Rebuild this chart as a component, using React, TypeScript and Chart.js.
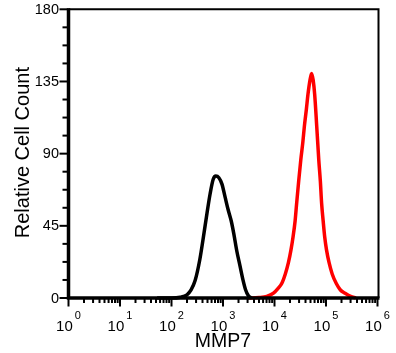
import React, { useEffect, useRef } from "react";
import { Chart, registerables } from "chart.js";

Chart.register(...registerables);

const FONT = '"Liberation Sans", Arial, Helvetica, sans-serif';

// Control histogram (black): log10(MMP7) and relative cell count
const blackLog = [1.72, 2.0, 2.17, 2.3, 2.38, 2.46, 2.55, 2.61, 2.69, 2.75, 2.81, 2.86, 2.92, 2.98, 3.04, 3.1, 3.16, 3.21, 3.27, 3.33, 3.39, 3.44, 3.49, 3.55];
const blackCount = [0, 0, 0.5, 2, 5, 11, 24, 36, 53, 65, 74, 76, 75, 71, 63, 55, 48, 40, 29, 20, 11, 5, 1.5, 0];

// MMP7 stained histogram (red)
const redLog = [3.47, 3.7, 3.85, 3.98, 4.07, 4.14, 4.21, 4.27, 4.32, 4.36, 4.4, 4.43, 4.47, 4.51, 4.55, 4.58, 4.62, 4.65, 4.69, 4.72, 4.75, 4.78, 4.82, 4.86, 4.89, 4.915, 4.945, 4.975, 5.01, 5.06, 5.12, 5.2, 5.28, 5.37, 5.48, 5.58];
const redCount = [0, 0.3, 1, 3, 6, 9, 15, 22, 30, 38, 48, 59, 73, 86, 97, 107, 118, 127, 136, 140, 136, 127, 107, 86, 73, 59, 48, 38, 30, 22, 15, 9, 5, 3, 1, 0];

const xTickExponents = [0, 1, 2, 3, 4, 5, 6];
const yTickValues = [0, 45, 90, 135, 180];
const yMinorPerMajor = 4;
const xTitle = "MMP7";
const yTitle = "Relative Cell Count";

const toPoints = (logs: number[], counts: number[]) =>
  logs.map((l, i) => ({ x: Math.pow(10, l), y: counts[i] }));

const axesPlugin = {
  id: "axesDecor",
  afterDatasetsDraw(chart: any) {
    const { ctx, chartArea: a, scales } = chart;
    const x = scales.x;
    const y = scales.y;
    ctx.save();
    ctx.strokeStyle = "#000";
    ctx.fillStyle = "#000";
    ctx.lineCap = "butt";

    // top and right frame
    ctx.lineWidth = 2;
    ctx.beginPath();
    ctx.moveTo(a.left, a.top);
    ctx.lineTo(a.right + 1, a.top);
    ctx.lineTo(a.right + 1, a.bottom);
    ctx.stroke();

    // y ticks
    const yMax = yTickValues[yTickValues.length - 1];
    const yStep = (yTickValues[1] - yTickValues[0]) / yMinorPerMajor;
    const nY = Math.round(yMax / yStep);
    ctx.lineWidth = 2;
    for (let i = 0; i <= nY; i++) {
      const py = y.getPixelForValue(i * yStep);
      const major = i % yMinorPerMajor === 0;
      ctx.beginPath();
      ctx.moveTo(a.left - (major ? 9 : 6), py);
      ctx.lineTo(a.left, py);
      ctx.stroke();
    }

    // x ticks (log decades + minor)
    for (let d = xTickExponents[0]; d < xTickExponents[xTickExponents.length - 1]; d++) {
      for (let k = 1; k <= 9; k++) {
        const px = x.getPixelForValue(k * Math.pow(10, d));
        const major = k === 1;
        ctx.beginPath();
        ctx.moveTo(px, a.bottom);
        ctx.lineTo(px, a.bottom + (major ? 8.5 : 5));
        ctx.stroke();
      }
    }
    {
      const px = x.getPixelForValue(Math.pow(10, xTickExponents[xTickExponents.length - 1]));
      ctx.beginPath();
      ctx.moveTo(px, a.bottom);
      ctx.lineTo(px, a.bottom + 8.5);
      ctx.stroke();
    }

    // thick left and bottom axes
    ctx.lineWidth = 3.5;
    ctx.beginPath();
    ctx.moveTo(a.left, a.top - 1);
    ctx.lineTo(a.left, a.bottom);
    ctx.lineTo(a.right + 2, a.bottom);
    ctx.stroke();

    // y tick labels
    ctx.font = `14.5px ${FONT}`;
    ctx.textAlign = "right";
    ctx.textBaseline = "middle";
    yTickValues.forEach((v) => {
      ctx.fillText(String(v), a.left - 9.5, y.getPixelForValue(v) + 0.5);
    });

    // x tick labels: 10 with superscript exponent
    ctx.textAlign = "left";
    ctx.textBaseline = "alphabetic";
    xTickExponents.forEach((e) => {
      const px = x.getPixelForValue(Math.pow(10, e));
      ctx.font = `15px ${FONT}`;
      const w1 = ctx.measureText("10").width;
      ctx.font = `11px ${FONT}`;
      const w2 = ctx.measureText(String(e)).width;
      const gap = 2;
      const start = px - (w1 + gap + w2) / 2;
      ctx.font = `15px ${FONT}`;
      ctx.fillText("10", start, a.bottom + 33);
      ctx.font = `11px ${FONT}`;
      ctx.fillText(String(e), start + w1 + gap, a.bottom + 20.5);
    });

    // axis titles
    ctx.font = `19.5px ${FONT}`;
    ctx.textAlign = "center";
    ctx.textBaseline = "alphabetic";
    ctx.fillText(xTitle, (a.left + a.right) / 2, a.bottom + 49);

    ctx.save();
    ctx.translate(28.5, (a.top + a.bottom) / 2 - 1);
    ctx.rotate(-Math.PI / 2);
    ctx.font = `20px ${FONT}`;
    ctx.fillText(yTitle, 0, 0);
    ctx.restore();

    ctx.restore();
  },
};

export default function App() {
  const canvasRef = useRef<HTMLCanvasElement | null>(null);

  useEffect(() => {
    if (!canvasRef.current) return;
    const chart = new Chart(canvasRef.current, {
      type: "line",
      data: {
        datasets: [
          {
            label: "Control",
            data: toPoints(blackLog, blackCount),
            borderColor: "#000000",
            borderWidth: 3.5,
            pointRadius: 0,
            tension: 0.35,
            cubicInterpolationMode: "monotone",
            fill: false,
            clip: 6,
          },
          {
            label: "MMP7",
            data: toPoints(redLog, redCount),
            borderColor: "#ff0000",
            borderWidth: 3.5,
            pointRadius: 0,
            tension: 0.35,
            cubicInterpolationMode: "monotone",
            fill: false,
            clip: 6,
          },
        ],
      },
      options: {
        animation: false,
        responsive: true,
        maintainAspectRatio: false,
        layout: { padding: { left: 68.5, right: 18.5, top: 9.3, bottom: 55 } },
        plugins: { legend: { display: false }, tooltip: { enabled: false } },
        scales: {
          x: { type: "logarithmic", min: 1, max: 1e6, display: false },
          y: { type: "linear", min: 0, max: 180, display: false },
        },
      },
      plugins: [axesPlugin],
    } as any);
    return () => chart.destroy();
  }, []);

  return (
    <div style={{ position: "fixed", left: 0, top: 0, width: 396, height: 353, background: "#fff" }}>
      <canvas ref={canvasRef} />
    </div>
  );
}
